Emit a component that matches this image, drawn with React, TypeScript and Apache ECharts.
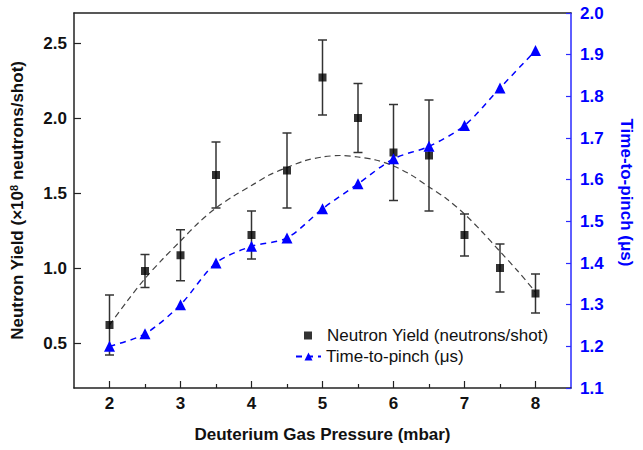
import React, { useEffect, useRef } from "react";
import * as echarts from "echarts";

const pressure = [2, 2.5, 3, 3.5, 4, 4.5, 5, 5.5, 6, 6.5, 7, 7.5, 8];
const neutronYield = [0.62, 0.98, 1.085, 1.62, 1.22, 1.65, 2.27, 2.0, 1.77, 1.75, 1.22, 1.0, 0.83];
const yieldError = [0.2, 0.11, 0.17, 0.22, 0.16, 0.25, 0.25, 0.23, 0.32, 0.37, 0.14, 0.16, 0.13];
const timeToPinch = [1.2, 1.23, 1.3, 1.4, 1.44, 1.46, 1.53, 1.59, 1.65, 1.68, 1.73, 1.82, 1.91];
const fitX = [2, 2.25, 2.5, 2.75, 3, 3.25, 3.5, 3.75, 4, 4.25, 4.5, 4.75, 5, 5.25, 5.5, 5.75, 6, 6.25, 6.5, 6.75, 7, 7.25, 7.5, 7.75, 8];
const fitY = [0.62, 0.78, 0.93, 1.06, 1.18, 1.3, 1.4, 1.48, 1.55, 1.62, 1.67, 1.715, 1.74, 1.75, 1.74, 1.72, 1.68, 1.62, 1.54, 1.46, 1.36, 1.24, 1.11, 0.98, 0.84];
const xTicks = [2, 3, 4, 5, 6, 7, 8];
const xMinorTicks = [2.5, 3.5, 4.5, 5.5, 6.5, 7.5];
const leftTicks = [0.5, 1.0, 1.5, 2.0, 2.5];
const rightTicks = [1.1, 1.2, 1.3, 1.4, 1.5, 1.6, 1.7, 1.8, 1.9, 2.0];

const FONT = "'Liberation Sans', Arial, sans-serif";
const BLUE = "#0000ff";
const AXIS_BLUE = "#2a2aff";

export default function App() {
  const ref = useRef<HTMLDivElement>(null);
  useEffect(() => {
    document.body.style.margin = "0";
    const chart = echarts.init(ref.current!, null, { renderer: "svg" });
    const errData = pressure.map((x, i) => [x, neutronYield[i] - yieldError[i], neutronYield[i] + yieldError[i]]);
    const legendText = { fontSize: 17, color: "#111", fontFamily: FONT };
    chart.setOption({
      animation: false,
      textStyle: { fontFamily: FONT },
      grid: { left: 72, right: 61, top: 13, bottom: 62 },
      legend: [
        {
          orient: "vertical",
          left: 299,
          top: 322,
          itemWidth: 8,
          itemHeight: 8,
          textStyle: { ...legendText, padding: [0, 0, 0, 10] },
          data: [{ name: "Neutron Yield (neutrons/shot)", icon: "rect" }],
        },
        {
          orient: "vertical",
          left: 290,
          top: 343,
          itemWidth: 25,
          itemHeight: 10,
          textStyle: legendText,
          data: [{ name: "Time-to-pinch (μs)" }],
        },
      ],
      xAxis: [
        {
          type: "value",
          position: "bottom",
          min: 1.5,
          max: 8.5,
          name: "Deuterium Gas Pressure (mbar)",
          nameLocation: "middle",
          nameGap: 38,
          nameTextStyle: { fontSize: 17, fontWeight: "bold", color: "#111", fontFamily: FONT },
          axisLine: { lineStyle: { color: "#222", width: 1.5 } },
          axisTick: { inside: true, length: 7, customValues: xTicks, lineStyle: { color: "#222", width: 1.2 } },
          axisLabel: {
            customValues: xTicks,
            margin: 7,
            fontSize: 17,
            fontWeight: "bold",
            color: "#111",
            fontFamily: FONT,
            formatter: (v: number) => String(v),
          },
          splitLine: { show: false },
        },
        {
          type: "value",
          position: "bottom",
          min: 1.5,
          max: 8.5,
          axisLine: { show: false },
          axisTick: { inside: true, length: 4, customValues: xMinorTicks, lineStyle: { color: "#222", width: 1.2 } },
          axisLabel: { show: false },
          splitLine: { show: false },
        },
        {
          type: "value",
          position: "top",
          min: 1.5,
          max: 8.5,
          axisLine: { lineStyle: { color: "#222", width: 1.5 } },
          axisTick: { show: false },
          axisLabel: { show: false },
          splitLine: { show: false },
        },
      ],
      yAxis: [
        {
          type: "value",
          position: "left",
          min: 0.2,
          max: 2.7,
          name: "{a|Neutron Yield (×10}{s|8}{a| neutrons/shot)}",
          nameLocation: "middle",
          nameGap: 47,
          nameRotate: 90,
          nameTextStyle: {
            rich: {
              a: { fontSize: 17, fontWeight: "bold", color: "#111", fontFamily: FONT },
              s: { fontSize: 11, fontWeight: "bold", color: "#111", fontFamily: FONT, padding: [0, 0, 8, 0] },
            },
          },
          axisLine: { show: true, lineStyle: { color: "#222", width: 1.5 } },
          axisTick: { show: true, inside: true, length: 7, customValues: leftTicks, lineStyle: { color: "#222", width: 1.2 } },
          axisLabel: {
            customValues: leftTicks,
            margin: 7,
            fontSize: 17,
            fontWeight: "bold",
            color: "#111",
            fontFamily: FONT,
            formatter: (v: number) => v.toFixed(1),
          },
          splitLine: { show: false },
        },
        {
          type: "value",
          position: "right",
          min: 1.1,
          max: 2.0,
          name: "Time-to-pinch (μs)",
          nameLocation: "middle",
          nameGap: 47,
          nameRotate: -90,
          nameTextStyle: { fontSize: 17, fontWeight: "bold", color: BLUE, fontFamily: FONT, padding: [0, 16, 0, 0] },
          axisLine: { show: true, lineStyle: { color: AXIS_BLUE, width: 1.5 } },
          axisTick: { show: true, inside: true, length: 5, customValues: rightTicks, lineStyle: { color: AXIS_BLUE, width: 1.2 } },
          axisLabel: {
            customValues: rightTicks,
            margin: 9,
            fontSize: 17,
            fontWeight: "bold",
            color: BLUE,
            fontFamily: FONT,
            formatter: (v: number) => v.toFixed(1),
          },
          splitLine: { show: false },
        },
      ],
      series: [
        {
          name: "fit",
          type: "line",
          xAxisIndex: 0,
          yAxisIndex: 0,
          data: fitX.map((x, i) => [x, fitY[i]]),
          smooth: 0.3,
          showSymbol: false,
          lineStyle: { color: "#444", width: 1.2, type: [6, 4] },
          z: 1,
        },
        {
          name: "errors",
          type: "custom",
          xAxisIndex: 0,
          yAxisIndex: 0,
          data: errData,
          z: 2,
          renderItem: (params: any, api: any) => {
            const x = api.value(0);
            const lo = api.coord([x, api.value(1)]);
            const hi = api.coord([x, api.value(2)]);
            const w = 4.5;
            const style = { stroke: "#333", lineWidth: 1.5 };
            return {
              type: "group",
              children: [
                { type: "line", shape: { x1: lo[0], y1: lo[1], x2: hi[0], y2: hi[1] }, style },
                { type: "line", shape: { x1: lo[0] - w, y1: lo[1], x2: lo[0] + w, y2: lo[1] }, style },
                { type: "line", shape: { x1: hi[0] - w, y1: hi[1], x2: hi[0] + w, y2: hi[1] }, style },
              ],
            };
          },
        },
        {
          name: "Neutron Yield (neutrons/shot)",
          type: "scatter",
          xAxisIndex: 0,
          yAxisIndex: 0,
          data: pressure.map((x, i) => [x, neutronYield[i]]),
          symbol: "rect",
          symbolSize: 8,
          itemStyle: { color: "#000" },
          z: 3,
        },
        {
          name: "Time-to-pinch (μs)",
          type: "line",
          xAxisIndex: 0,
          yAxisIndex: 1,
          data: pressure.map((x, i) => [x, timeToPinch[i]]),
          smooth: 0.3,
          symbol: "triangle",
          symbolSize: 11,
          showAllSymbol: true,
          itemStyle: { color: BLUE },
          lineStyle: { color: BLUE, width: 1.5, type: [6, 5] },
          z: 3,
        },
      ],
    });
    return () => chart.dispose();
  }, []);
  return <div ref={ref} style={{ width: 643, height: 450 }} />;
}
